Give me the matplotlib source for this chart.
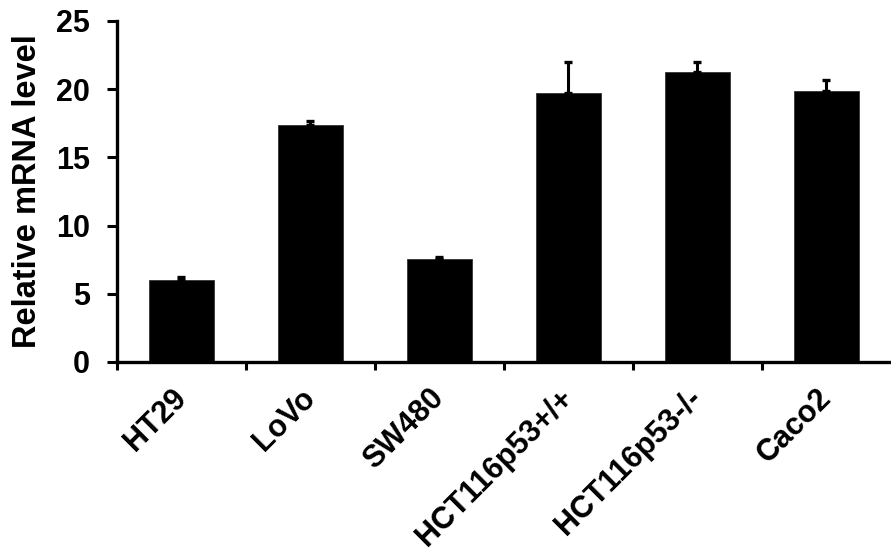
import matplotlib.pyplot as plt
import numpy as np

plt.rcParams['font.family'] = ['Liberation Sans', 'DejaVu Sans']
plt.rcParams['font.weight'] = 'bold'

cells = ["HT29", "LoVo", "SW480", "HCT116p53+/+", "HCT116p53-/-", "Caco2"]
levels = [6.0, 17.4, 7.55, 19.7, 21.25, 19.85]
errors = [0.2, 0.3, 0.15, 2.3, 0.75, 0.8]

fig = plt.figure(figsize=(8.91, 5.6), dpi=100)
ax = fig.add_axes([0.1313, 0.3536, 0.8687, 0.6089])

x = np.arange(len(cells))
ax.bar(x, levels, width=0.5, color="black", edgecolor="#333333", linewidth=0.6)
ax.errorbar(x, levels, yerr=[np.zeros(len(errors)), errors], fmt="none",
            ecolor="black", elinewidth=2.2, capsize=2.6, capthick=2.4)

ax.set_xlim(-0.5, len(cells) - 0.5)
ax.set_ylim(0, 25)
ax.set_yticks([0, 5, 10, 15, 20, 25])

# tick marks between categories, labels at the bar centres
ax.set_xticks(np.arange(len(cells)) - 0.5)
ax.set_xticklabels([])
ax.set_xticks(x, minor=True)
ax.set_xticklabels(cells, minor=True, rotation=45, ha="right", va="center",
                   rotation_mode="anchor", fontsize=22, fontweight="bold")
ax.tick_params(axis="x", which="minor", length=0, pad=23)
ax.tick_params(axis="x", which="major", direction="out", length=6, width=2.2)
ax.tick_params(axis="y", direction="out", length=7.5, width=2.2, labelsize=22, pad=12)

for lab in ax.get_yticklabels():
    lab.set_fontweight("bold")

ax.set_ylabel("Relative mRNA level", fontsize=23.5, fontweight="bold", labelpad=9)

for side in ["top", "right"]:
    ax.spines[side].set_visible(False)
for side in ["left", "bottom"]:
    ax.spines[side].set_linewidth(2.4)

fig.savefig("out.png", dpi=100)
